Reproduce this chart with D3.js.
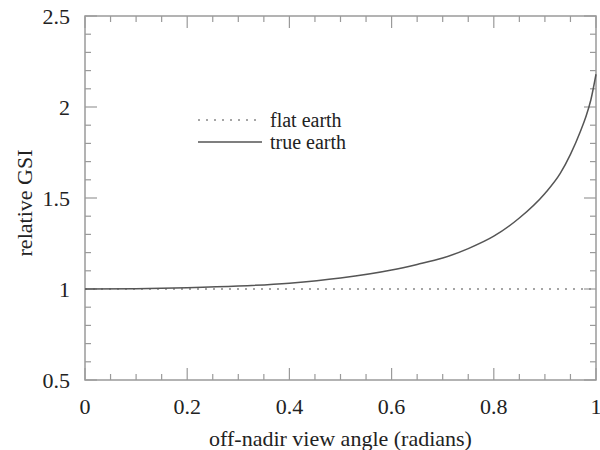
<!DOCTYPE html>
<html lang="en">
  <head>
    <meta charset="utf-8">
    <title>relative GSI</title>
    <script src="https://cdn.jsdelivr.net/npm/d3@7"></script>
    <style>
      body { margin: 0; background: #fff; }
      svg text { font-family: "Liberation Serif", "DejaVu Serif", serif; fill: #222; }
    </style>
  </head>
  <body>
    <div id="chart"></div>
    <script>
      // off-nadir view angle (radians) and relative GSI
      var angles   = [0, 0.1, 0.2, 0.3, 0.4, 0.5, 0.6, 0.65, 0.7, 0.75, 0.8, 0.85, 0.9, 0.93, 0.95, 0.97, 0.98, 0.99, 1.0];
      var trueGsi  = [1, 1.002, 1.007, 1.016, 1.032, 1.06, 1.104, 1.135, 1.17, 1.222, 1.29, 1.39, 1.525, 1.635, 1.74, 1.87, 1.945, 2.04, 2.18];
      var flatGsi  = [1, 1];
      var flatX    = [0, 1];
      var xTicks   = [0, 0.2, 0.4, 0.6, 0.8, 1];
      var yTicks   = [0.5, 1, 1.5, 2, 2.5];

      var width = 600, height = 450;
      // plot box (window.top is read-only, so no "top" here)
      var plotL = 85, plotR = 596, plotT = 16, plotB = 380;
      var fs = 22;

      var svg = d3.select("#chart").append("svg")
          .attr("width", width)
          .attr("height", height);

      var x = d3.scaleLinear().domain([0, 1]).range([plotL, plotR]);
      var y = d3.scaleLinear().domain([0.5, 2.5]).range([plotB, plotT]);

      var axisColor = "#9a9a9a";

      // frame
      svg.append("rect")
          .attr("x", plotL).attr("y", plotT)
          .attr("width", plotR - plotL).attr("height", plotB - plotT)
          .attr("fill", "none")
          .attr("stroke", axisColor)
          .attr("stroke-width", 1.5);

      // ticks on all four sides, pointing inward
      var xMinor = d3.range(0, 1.0001, 0.05);
      var yMinor = d3.range(0.5, 2.5001, 0.1);
      function isMajor(v, step) { return Math.abs(v / step - Math.round(v / step)) < 1e-6; }

      var tg = svg.append("g").attr("stroke", axisColor).attr("stroke-width", 1.2);
      xMinor.forEach(function(v) {
        var len = isMajor(v, 0.2) ? 12 : 6;
        tg.append("line").attr("x1", x(v)).attr("x2", x(v)).attr("y1", plotB).attr("y2", plotB - len);
        tg.append("line").attr("x1", x(v)).attr("x2", x(v)).attr("y1", plotT).attr("y2", plotT + len);
      });
      yMinor.forEach(function(v) {
        var len = isMajor(v, 0.5) ? 12 : 6;
        tg.append("line").attr("y1", y(v)).attr("y2", y(v)).attr("x1", plotL).attr("x2", plotL + len);
        tg.append("line").attr("y1", y(v)).attr("y2", y(v)).attr("x1", plotR).attr("x2", plotR - len);
      });

      // tick labels
      svg.append("g").selectAll("text")
          .data(xTicks)
          .enter().append("text")
          .attr("x", function(d) { return x(d); })
          .attr("y", 414)
          .attr("text-anchor", "middle")
          .attr("font-size", fs)
          .text(function(d) { return d3.format("")(d); });

      svg.append("g").selectAll("text")
          .data(yTicks)
          .enter().append("text")
          .attr("x", 70)
          .attr("y", function(d) { return y(d) + 8; })
          .attr("text-anchor", "end")
          .attr("font-size", fs)
          .text(function(d) { return d3.format("")(d); });

      // axis titles
      svg.append("text")
          .attr("x", (plotL + plotR) / 2)
          .attr("y", 446)
          .attr("text-anchor", "middle")
          .attr("font-size", fs)
          .text("off-nadir view angle (radians)");

      svg.append("text")
          .attr("transform", "translate(32,203) rotate(-90)")
          .attr("text-anchor", "middle")
          .attr("font-size", fs)
          .text("relative GSI");

      var line = d3.line()
          .x(function(d) { return x(d[0]); })
          .y(function(d) { return y(d[1]); });

      // flat earth
      svg.append("path")
          .datum(d3.zip(flatX, flatGsi))
          .attr("d", line)
          .attr("fill", "none")
          .attr("stroke", "#888")
          .attr("stroke-width", 1.5)
          .attr("stroke-dasharray", "2,6");

      // true earth
      svg.append("path")
          .datum(d3.zip(angles, trueGsi))
          .attr("d", line.curve(d3.curveMonotoneX))
          .attr("fill", "none")
          .attr("stroke", "#555")
          .attr("stroke-width", 1.5);

      // legend
      var legend = [
        {label: "flat earth", dash: "2,6", color: "#888"},
        {label: "true earth", dash: null, color: "#555"}
      ];
      var lg = svg.append("g");
      legend.forEach(function(d, i) {
        var ly = 120 + i * 22;
        lg.append("line")
            .attr("x1", 198).attr("x2", 262)
            .attr("y1", ly).attr("y2", ly)
            .attr("stroke", d.color)
            .attr("stroke-width", 1.5)
            .attr("stroke-dasharray", d.dash);
        lg.append("text")
            .attr("x", 270)
            .attr("y", ly + 7)
            .attr("font-size", 20)
            .text(d.label);
      });
    </script>
  </body>
</html>
